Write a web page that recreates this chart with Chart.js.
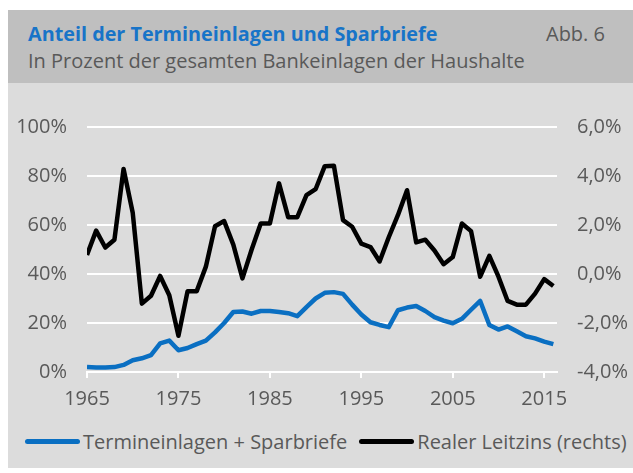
<!DOCTYPE html>
<html>
<head>
<meta charset="utf-8">
<script src="https://cdn.jsdelivr.net/npm/chart.js@4/dist/chart.umd.min.js"></script>
<style>
  html, body { margin:0; padding:0; background:#fff; width:633px; height:473px; overflow:hidden; font-family:"Open Sans", sans-serif; }
  #band { position:absolute; left:8px; top:10px; width:625px; height:73px; background:#bfbfbf; }
  #panel { position:absolute; left:8px; top:83px; width:625px; height:385px; background:#dcdcdc; }
  #title { position:absolute; left:28px; top:20px; font-size:19.8px; line-height:27px; font-weight:bold; color:#1874c8; white-space:nowrap; }
  #abb { position:absolute; right:28px; top:20px; font-size:20px; line-height:27px; color:#595959; white-space:nowrap; }
  #sub { position:absolute; left:28px; top:47px; font-size:20px; line-height:27px; color:#595959; white-space:nowrap; }
  #wrap { position:absolute; left:8px; top:83px; width:625px; height:343px; }
  #legend { position:absolute; left:25px; top:428px; font-size:20px; color:#595959; white-space:nowrap; display:flex; align-items:center; }
  .sw { display:inline-block; width:55px; height:5px; border-radius:3px; margin-right:3px; }
  .item { display:flex; align-items:center; }
</style>
</head>
<body>
<div id="band"></div>
<div id="panel"></div>
<div id="title">Anteil der Termineinlagen und Sparbriefe</div>
<div id="abb">Abb. 6</div>
<div id="sub">In Prozent der gesamten Bankeinlagen der Haushalte</div>
<div id="wrap"><canvas id="c"></canvas></div>
<div id="legend">
  <span class="item"><span class="sw" style="background:#0a6fc2"></span><span id="l1">Termineinlagen + Sparbriefe</span></span>
  <span class="item" style="margin-left:12px"><span class="sw" style="background:#000"></span><span id="l2">Realer Leitzins (rechts)</span></span>
</div>
<script>
const years = [1965,1966,1967,1968,1969,1970,1971,1972,1973,1974,1975,1976,1977,1978,1979,1980,1981,1982,1983,1984,1985,1986,1987,1988,1989,1990,1991,1992,1993,1994,1995,1996,1997,1998,1999,2000,2001,2002,2003,2004,2005,2006,2007,2008,2009,2010,2011,2012,2013,2014,2015,2016];
const termineinlagen = [2.0,1.8,1.8,2.0,2.9,4.8,5.6,6.9,11.7,12.8,8.9,9.8,11.4,12.8,16.2,20.0,24.5,24.7,23.8,24.9,24.9,24.5,24.0,22.8,26.5,30.0,32.3,32.6,31.9,27.5,23.5,20.3,19.2,18.3,25.2,26.3,26.9,24.9,22.4,21.0,19.9,21.7,25.4,29.0,19.2,17.3,18.6,16.6,14.6,13.7,12.4,11.4];
const leitzins = [0.78,1.77,1.08,1.40,4.29,2.50,-1.21,-0.89,-0.08,-0.87,-2.52,-0.70,-0.70,0.30,1.95,2.16,1.20,-0.18,0.99,2.06,2.06,3.70,2.32,2.32,3.22,3.46,4.40,4.42,2.20,1.93,1.24,1.10,0.51,1.50,2.40,3.42,1.29,1.40,0.96,0.40,0.69,2.06,1.75,-0.11,0.74,-0.11,-1.10,-1.25,-1.25,-0.80,-0.21,-0.49];
const xTicks = [1965,1975,1985,1995,2005,2015];
const leftTicks = [0,20,40,60,80,100];
const rightTicks = [-4,-2,0,2,4,6];

const toXY = (vals) => vals.map((v,i) => ({x: years[i], y: v}));
const tickFont = { family: "'Open Sans', sans-serif", size: 20 };
const gray = '#595959';

new Chart(document.getElementById('c'), {
  type: 'line',
  data: {
    datasets: [
      { label: 'Termineinlagen + Sparbriefe', data: toXY(termineinlagen), yAxisID: 'y', borderColor: '#0a6fc2', borderWidth: 4.5, pointRadius: 0, tension: 0, borderJoinStyle: 'round', order: 2 },
      { label: 'Realer Leitzins (rechts)', data: toXY(leitzins), yAxisID: 'y2', borderColor: '#000000', borderWidth: 4.5, pointRadius: 0, tension: 0, borderJoinStyle: 'round', order: 1 }
    ]
  },
  options: {
    responsive: true, maintainAspectRatio: false, animation: false,
    layout: { padding: { top: 44, bottom: 6, left: 0, right: 0 } },
    plugins: { legend: { display: false }, tooltip: { enabled: false } },
    scales: {
      x: {
        type: 'linear', min: 1965, max: 2016.4,
        afterBuildTicks: s => { s.ticks = xTicks.map(v => ({ value: v })); },
        ticks: { color: gray, font: tickFont, padding: 9, maxRotation: 0, autoSkip: false, callback: v => String(v) },
        grid: { drawOnChartArea: false, drawTicks: true, tickLength: 6, color: '#ffffff', lineWidth: 2 },
        border: { display: true, color: '#ffffff', width: 2 }
      },
      y: {
        position: 'left', min: 0, max: 100,
        afterBuildTicks: s => { s.ticks = leftTicks.map(v => ({ value: v })); },
        afterFit: s => { s.width = 79; },
        ticks: { color: gray, font: tickFont, padding: 20, callback: v => v + '%' },
        grid: { color: '#ffffff', lineWidth: 2, drawTicks: false },
        border: { display: false }
      },
      y2: {
        position: 'right', min: -4, max: 6,
        afterBuildTicks: s => { s.ticks = rightTicks.map(v => ({ value: v })); },
        afterFit: s => { s.width = 76; },
        ticks: { color: gray, font: tickFont, padding: 20, callback: v => v.toFixed(1).replace('.', ',') + '%' },
        grid: { drawOnChartArea: false, drawTicks: false },
        border: { display: false }
      }
    }
  }
});
</script>
</body>
</html>
